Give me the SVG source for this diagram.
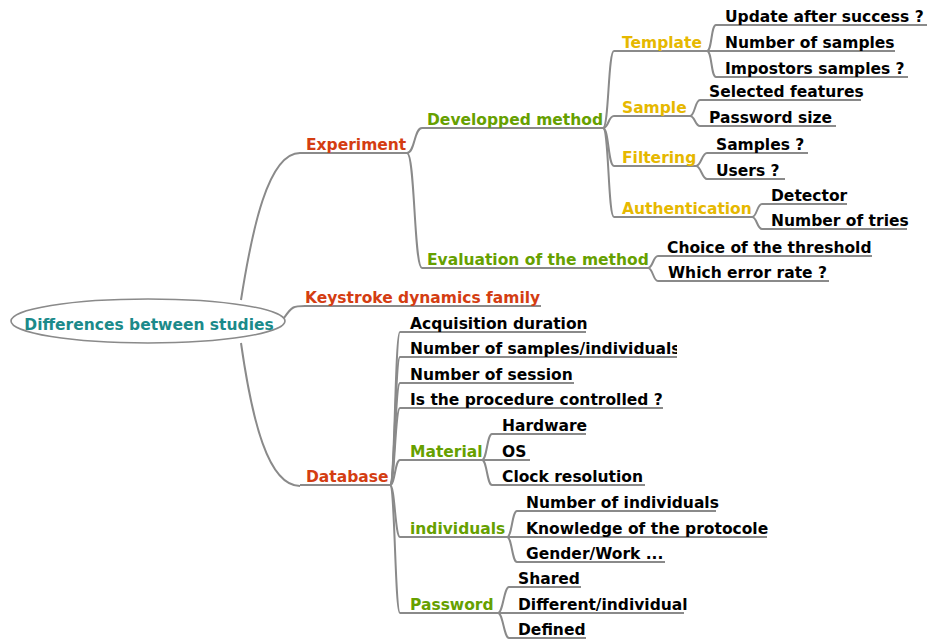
<svg xmlns="http://www.w3.org/2000/svg" width="927" height="639" viewBox="0 0 927 639">
<defs>
<style>
text{font-family:"DejaVu Sans",Verdana,sans-serif;font-weight:bold;font-size:15.5px}
.root{fill:#1b8a8a}
.l1{fill:#d43d12}
.l2{fill:#66a000}
.l3{fill:#e6b800}
.lf{fill:#000}
.ul{stroke:#8a8a8a;stroke-width:2;fill:none}
.edge{stroke:#8a8a8a;stroke-width:2;fill:none}
</style>
<clipPath id="clipNS"><rect x="400" y="330" width="277" height="30"/></clipPath>
</defs>
<rect width="927" height="639" fill="#fff"/>
<g id="connectors">
<path class="edge" d="M241,300 C252,230 268,153 300,153"/>
<path class="edge" d="M284,318 C292,306 294,306 305,306"/>
<path class="edge" d="M241,343 C252,420 268,486 300,486"/>
<path class="edge" d="M407,153 C415,153 414,128 422,128"/>
<path class="edge" d="M407,153 C415,153 414,268 422,268"/>
<path class="edge" d="M603,128 C609,128 608,51 614,51"/>
<path class="edge" d="M603,128 C609,128 608,116 614,116"/>
<path class="edge" d="M603,128 C609,128 608,166 614,166"/>
<path class="edge" d="M603,128 C609,128 608,217 614,217"/>
<path class="edge" d="M707,51 C712,51 711,25 716,25"/>
<path class="edge" d="M707,51 L716,51"/>
<path class="edge" d="M707,51 C712,51 711,77 716,77"/>
<path class="edge" d="M690,116 C695,116 695,100 700,100"/>
<path class="edge" d="M690,116 C695,116 695,126 700,126"/>
<path class="edge" d="M696,166 C701,166 702,153 707,153"/>
<path class="edge" d="M696,166 C701,166 702,179 707,179"/>
<path class="edge" d="M752,217 C757,217 757,204 762,204"/>
<path class="edge" d="M752,217 C757,217 757,229 762,229"/>
<path class="edge" d="M648,268 C653,268 653,256 658,256"/>
<path class="edge" d="M648,268 C653,268 653,281 658,281"/>
<path class="edge" d="M390,485 C395,485 395,332 400,332"/>
<path class="edge" d="M390,485 C395,485 395,357 400,357"/>
<path class="edge" d="M390,485 C395,485 395,383 400,383"/>
<path class="edge" d="M390,485 C395,485 395,408 400,408"/>
<path class="edge" d="M390,485 C395,485 395,460 400,460"/>
<path class="edge" d="M390,485 C395,485 395,537 400,537"/>
<path class="edge" d="M390,485 C395,485 395,613 400,613"/>
<path class="edge" d="M482,460 C487,460 487,434 492,434"/>
<path class="edge" d="M482,460 L492,460"/>
<path class="edge" d="M482,460 C487,460 487,485 492,485"/>
<path class="edge" d="M507,537 C512,537 512,511 517,511"/>
<path class="edge" d="M507,537 L517,537"/>
<path class="edge" d="M507,537 C512,537 512,562 517,562"/>
<path class="edge" d="M498,613 C503,613 504,587 509,587"/>
<path class="edge" d="M498,613 L509,613"/>
<path class="edge" d="M498,613 C503,613 504,638 509,638"/>
</g>
<g id="root"><ellipse cx="148" cy="321" rx="137" ry="22" fill="#fff" stroke="#8a8a8a" stroke-width="1.6"/><text class="root" x="149" y="330" text-anchor="middle">Differences between studies</text></g>
<g id="experiment"><line class="ul" x1="300" y1="153" x2="407" y2="153"/><text class="l1" x="306" y="150">Experiment</text></g>
<g id="keystroke"><line class="ul" x1="304" y1="306" x2="541" y2="306"/><text class="l1" x="305" y="303">Keystroke dynamics family</text></g>
<g id="database"><line class="ul" x1="300" y1="485" x2="390" y2="485"/><text class="l1" x="306" y="482">Database</text></g>
<g id="developped"><line class="ul" x1="422" y1="128" x2="603" y2="128"/><text class="l2" x="427" y="125">Developped method</text></g>
<g id="evaluation"><line class="ul" x1="422" y1="268" x2="648" y2="268"/><text class="l2" x="427" y="265">Evaluation of the method</text></g>
<g id="template"><line class="ul" x1="614" y1="51" x2="707" y2="51"/><text class="l3" x="622" y="48">Template</text></g>
<g id="sample"><line class="ul" x1="614" y1="116" x2="690" y2="116"/><text class="l3" x="622" y="113">Sample</text></g>
<g id="filtering"><line class="ul" x1="614" y1="166" x2="696" y2="166"/><text class="l3" x="622" y="163">Filtering</text></g>
<g id="authentication"><line class="ul" x1="614" y1="217" x2="752" y2="217"/><text class="l3" x="622" y="214">Authentication</text></g>
<g id="update"><line class="ul" x1="716" y1="25" x2="927" y2="25"/><text class="lf" x="725" y="22">Update after success ?</text></g>
<g id="numsamples"><line class="ul" x1="716" y1="51" x2="895" y2="51"/><text class="lf" x="725" y="48">Number of samples</text></g>
<g id="impostors"><line class="ul" x1="716" y1="77" x2="908" y2="77"/><text class="lf" x="725" y="74">Impostors samples ?</text></g>
<g id="selected"><line class="ul" x1="700" y1="100" x2="861" y2="100"/><text class="lf" x="709" y="97">Selected features</text></g>
<g id="pwsize"><line class="ul" x1="700" y1="126" x2="836" y2="126"/><text class="lf" x="709" y="123">Password size</text></g>
<g id="fsamples"><line class="ul" x1="707" y1="153" x2="808" y2="153"/><text class="lf" x="716" y="150">Samples ?</text></g>
<g id="fusers"><line class="ul" x1="707" y1="179" x2="785" y2="179"/><text class="lf" x="716" y="176">Users ?</text></g>
<g id="detector"><line class="ul" x1="762" y1="204" x2="847" y2="204"/><text class="lf" x="771" y="201">Detector</text></g>
<g id="tries"><line class="ul" x1="762" y1="229" x2="907" y2="229"/><text class="lf" x="771" y="226">Number of tries</text></g>
<g id="threshold"><line class="ul" x1="658" y1="256" x2="872" y2="256"/><text class="lf" x="667" y="253">Choice of the threshold</text></g>
<g id="errorrate"><line class="ul" x1="658" y1="281" x2="829" y2="281"/><text class="lf" x="668" y="278">Which error rate ?</text></g>
<g id="acquisition"><line class="ul" x1="400" y1="332" x2="586" y2="332"/><text class="lf" x="410" y="329">Acquisition duration</text></g>
<g id="nsi"><line class="ul" x1="400" y1="357" x2="677" y2="357"/><text class="lf" x="410" y="354" clip-path="url(#clipNS)">Number of samples/individuals</text></g>
<g id="session"><line class="ul" x1="400" y1="383" x2="574" y2="383"/><text class="lf" x="410" y="380">Number of session</text></g>
<g id="procedure"><line class="ul" x1="400" y1="408" x2="663" y2="408"/><text class="lf" x="410" y="405">Is the procedure controlled ?</text></g>
<g id="material"><line class="ul" x1="400" y1="460" x2="482" y2="460"/><text class="l2" x="410" y="457">Material</text></g>
<g id="hardware"><line class="ul" x1="492" y1="434" x2="586" y2="434"/><text class="lf" x="502" y="431">Hardware</text></g>
<g id="os"><line class="ul" x1="492" y1="460" x2="530" y2="460"/><text class="lf" x="502" y="457">OS</text></g>
<g id="clock"><line class="ul" x1="492" y1="485" x2="645" y2="485"/><text class="lf" x="502" y="482">Clock resolution</text></g>
<g id="individuals"><line class="ul" x1="400" y1="537" x2="507" y2="537"/><text class="l2" x="410" y="534">individuals</text></g>
<g id="numind"><line class="ul" x1="517" y1="511" x2="716" y2="511"/><text class="lf" x="526" y="508">Number of individuals</text></g>
<g id="knowledge"><line class="ul" x1="517" y1="537" x2="767" y2="537"/><text class="lf" x="526" y="534">Knowledge of the protocole</text></g>
<g id="gender"><line class="ul" x1="517" y1="562" x2="665" y2="562"/><text class="lf" x="526" y="559">Gender/Work ...</text></g>
<g id="password"><line class="ul" x1="400" y1="613" x2="498" y2="613"/><text class="l2" x="410" y="610">Password</text></g>
<g id="shared"><line class="ul" x1="509" y1="587" x2="581" y2="587"/><text class="lf" x="518" y="584">Shared</text></g>
<g id="different"><line class="ul" x1="509" y1="613" x2="684" y2="613"/><text class="lf" x="518" y="610">Different/individual</text></g>
<g id="defined"><line class="ul" x1="509" y1="638" x2="586" y2="638"/><text class="lf" x="518" y="635">Defined</text></g>
</svg>
